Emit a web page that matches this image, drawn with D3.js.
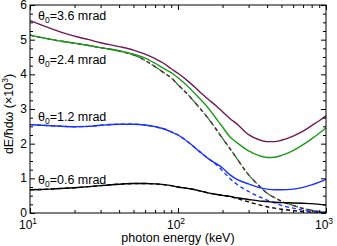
<!DOCTYPE html>
<html><head><meta charset="utf-8">
<script src="https://cdn.jsdelivr.net/npm/d3@7"></script>
<style>body{margin:0;background:#fff}svg{display:block}text{font-family:"Liberation Sans",Arial,sans-serif}</style>
</head><body><svg id="c" width="337" height="246"></svg>
<script>
const energy = [10,12,15,20,25,30,40,50,60,70,80,90,100,120,140,160,180,200,225,250,300,350,400,450,500,600,700,800,900,1000];
const purpleSolid = [5.55,5.42,5.27,5.10,5.00,4.91,4.80,4.70,4.58,4.45,4.32,4.16,4.03,3.76,3.50,3.28,3.10,2.92,2.72,2.57,2.26,2.12,2.06,2.06,2.10,2.22,2.36,2.52,2.66,2.80];
const greenSolid  = [5.13,5.06,4.98,4.90,4.83,4.77,4.68,4.58,4.47,4.32,4.17,4.05,3.90,3.60,3.30,3.03,2.74,2.48,2.19,2.03,1.79,1.66,1.60,1.61,1.66,1.80,1.97,2.14,2.30,2.46];
const purpleDash  = [5.13,5.06,4.98,4.90,4.83,4.77,4.67,4.56,4.40,4.22,4.05,3.90,3.70,3.36,3.03,2.73,2.43,2.15,1.85,1.57,1.10,0.80,0.57,0.44,0.34,0.22,0.13,0.08,0.04,0.02];
const greenDash   = [5.13,5.06,4.98,4.90,4.83,4.77,4.67,4.56,4.40,4.22,4.05,3.90,3.70,3.36,3.03,2.73,2.43,2.15,1.85,1.57,1.10,0.80,0.57,0.44,0.34,0.22,0.13,0.08,0.04,0.02];
const blueSolid   = [2.55,2.53,2.51,2.49,2.50,2.53,2.56,2.56,2.54,2.49,2.43,2.34,2.25,2.01,1.77,1.57,1.43,1.30,1.10,0.97,0.84,0.74,0.69,0.67,0.67,0.69,0.74,0.81,0.89,0.97];
const blueDash    = [2.55,2.53,2.51,2.49,2.50,2.53,2.56,2.56,2.54,2.49,2.43,2.34,2.25,2.01,1.77,1.57,1.41,1.22,0.99,0.83,0.62,0.48,0.37,0.29,0.22,0.14,0.08,0.05,0.03,0.01];
const blackSolid  = [0.67,0.68,0.70,0.73,0.76,0.79,0.83,0.85,0.85,0.84,0.82,0.79,0.75,0.70,0.64,0.58,0.54,0.51,0.48,0.44,0.39,0.35,0.33,0.31,0.30,0.29,0.28,0.27,0.25,0.23];
const blackDash   = [0.67,0.68,0.70,0.73,0.76,0.79,0.83,0.85,0.85,0.84,0.82,0.79,0.75,0.70,0.64,0.58,0.54,0.51,0.47,0.42,0.32,0.24,0.18,0.14,0.11,0.07,0.04,0.03,0.02,0.01];
const yTicks = [0,1,2,3,4,5,6];
const xTicks = [10,100,1000];
const xTickExp = ["1","2","3"];
const labels = ["3.6","2.4","1.2","0.6"];

const svg = d3.select("#c");
const L=30,R=326,T=5,B=213;
const x = d3.scaleLog().domain([10,1000]).range([L,R]);
const y = d3.scaleLinear().domain([0,6]).range([B,T]);
const g = svg.append("g");

const series = [
  {d:greenDash, c:"#1c9a1c", dash:"4,2", off:0},
  {d:purpleDash, c:"#6e1a55", dash:"4,4", off:0},
  {d:blackDash, c:"#000", dash:"4,3"},
  {d:blueDash, c:"#1a33ff", dash:"4,3"},
  {d:blackSolid, c:"#000"},
  {d:blueSolid, c:"#1a33ff"},
  {d:greenSolid, c:"#1c9a1c"},
  {d:purpleSolid, c:"#6e1a55"}
];
const line = d3.line().x((d,i)=>x(energy[i])).y(d=>y(d)).curve(d3.curveMonotoneX);
series.forEach(s=>{
  g.append("path").attr("d",line(s.d)).attr("fill","none").attr("stroke",s.c)
   .attr("stroke-width",1.4).attr("stroke-dasharray",s.dash||null).attr("stroke-dashoffset",s.off||0);
});

svg.append("rect").attr("x",L).attr("y",T).attr("width",R-L).attr("height",B-T)
  .attr("fill","none").attr("stroke","#000").attr("stroke-width",1);

const minorX = [];
[10,100].forEach(d=>{for(let k=2;k<10;k++) minorX.push(d*k);});
const minorY = d3.range(0,6.01,0.25).filter(v=>Math.abs(v-Math.round(v))>1e-6);
function drawAxis(axisGen, tr){ const a=svg.append("g").attr("transform",tr).call(axisGen); a.select(".domain").remove(); a.selectAll("line").attr("stroke","#000"); a.selectAll("text").remove(); }
drawAxis(d3.axisBottom(x).tickValues(xTicks).tickSize(-5), `translate(0,${B})`);
drawAxis(d3.axisBottom(x).tickValues(minorX).tickSize(-3), `translate(0,${B})`);
drawAxis(d3.axisTop(x).tickValues(xTicks).tickSize(-5), `translate(0,${T})`);
drawAxis(d3.axisTop(x).tickValues(minorX).tickSize(-3), `translate(0,${T})`);
drawAxis(d3.axisLeft(y).tickValues(yTicks).tickSize(-5), `translate(${L},0)`);
drawAxis(d3.axisLeft(y).tickValues(minorY).tickSize(-3), `translate(${L},0)`);
drawAxis(d3.axisRight(y).tickValues(yTicks).tickSize(-5), `translate(${R},0)`);
drawAxis(d3.axisRight(y).tickValues(minorY).tickSize(-3), `translate(${R},0)`);

const fs = 12;
yTicks.forEach(v=>{
  svg.append("text").attr("x",L-3).attr("y",y(v)+4).attr("text-anchor","end").attr("font-size",fs).text(v);
});
xTicks.forEach((v,i)=>{
  const t = svg.append("text").attr("x",x(v)-2).attr("y",B+16).attr("text-anchor","middle").attr("font-size",fs);
  t.append("tspan").text("10");
  t.append("tspan").attr("dy",-5).attr("font-size",8.5).text(xTickExp[i]);
});

svg.append("text").attr("x",(L+R)/2).attr("y",242).attr("text-anchor","middle").attr("font-size",12.5).text("photon energy (keV)");
const yl = svg.append("text").attr("transform",`translate(13,${(T+B)/2+5}) rotate(-90)`).attr("text-anchor","middle").attr("font-size",12.5);
yl.append("tspan").text("dE/ħdω (×10");
yl.append("tspan").attr("dy",-5).attr("font-size",8.5).text("3");
yl.append("tspan").attr("dy",5).text(")");

const labelY = [20,64,121,184];
labels.forEach((s,i)=>{
  const t = svg.append("text").attr("x",38).attr("y",labelY[i]).attr("font-size",12.5);
  t.append("tspan").text("θ");
  t.append("tspan").attr("dy",3).attr("font-size",8.5).text("0");
  t.append("tspan").attr("dy",-3).text("="+s+" mrad");
});
</script></body></html>
